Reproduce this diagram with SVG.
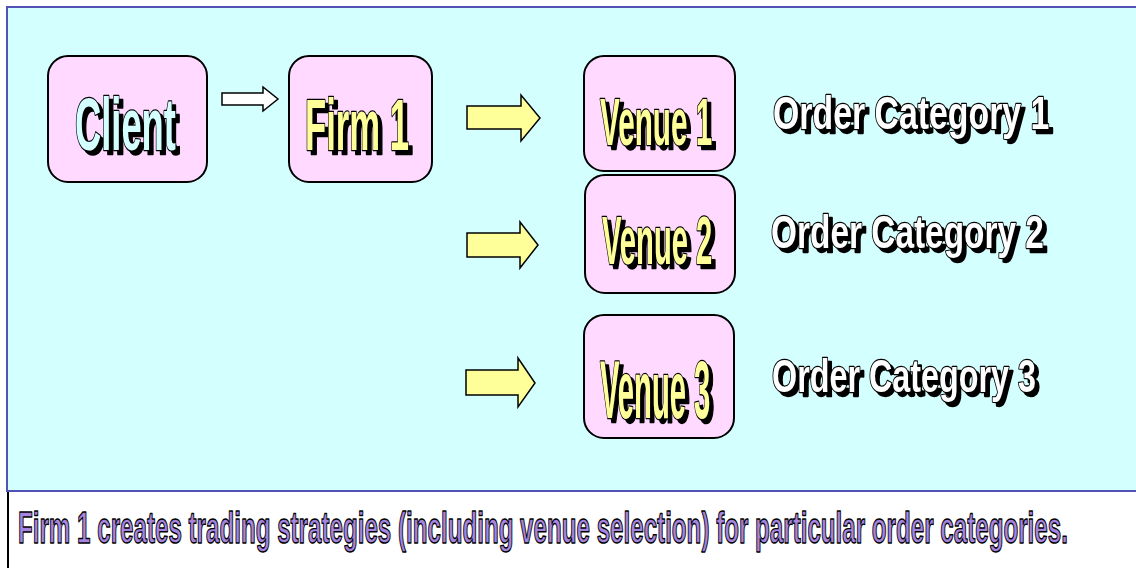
<svg xmlns="http://www.w3.org/2000/svg" width="1136" height="568" viewBox="0 0 1136 568">
<defs>
<filter id="shadow4" x="-10%" y="-20%" width="130%" height="150%">
<feFlood flood-color="#000" result="f"/>
<feComposite in="f" in2="SourceAlpha" operator="in" result="s"/>
<feOffset in="s" dx="4" dy="4" result="o"/>
<feMerge><feMergeNode in="o"/><feMergeNode in="SourceGraphic"/></feMerge>
</filter>
</defs>
<style>
.box{fill:#FFD9FF;stroke:#000;stroke-width:2}
.sh{filter:url(#shadow4)}
.t{font-family:"Liberation Sans",Arial,sans-serif;font-weight:bold;stroke:#000;stroke-width:2;stroke-linejoin:round;paint-order:stroke;vector-effect:non-scaling-stroke}
.cy{fill:#D4FFFF}
.ye{fill:#FFFF99}
.wh{fill:#FFFFFF}
.yarrow{fill:#FFFF99;stroke:#000;stroke-width:1.5;stroke-linejoin:miter}
.caption{font-family:"Liberation Sans",Arial,sans-serif;font-weight:bold;fill:#A585E0;stroke:#000;stroke-width:1.2;stroke-linejoin:round;vector-effect:non-scaling-stroke}
</style>
<rect x="0" y="0" width="1136" height="568" fill="#FFFFFF"/>
<rect x="7" y="7" width="1140" height="484" fill="#D4FFFF" stroke="#5353B5" stroke-width="2"/>
<line x1="8" y1="492" x2="8" y2="568" stroke="#000" stroke-width="2"/>

<g id="connectors">
<path d="M222,93 H263 V87 L278,99 L263,111 V105 H222 Z" fill="#FFFFFF" stroke="#000" stroke-width="1.5"/>
<path class="yarrow" d="M467,106 H521 V95 L540,118 L521,141 V129 H467 Z"/>
<path class="yarrow" d="M467,233 H520 V222 L538,245 L520,268 V257 H467 Z"/>
<path class="yarrow" d="M466,370 H518 V358 L535,383 L518,407 V395 H466 Z"/>
</g>

<g id="client">
<rect class="box" x="48" y="56" width="159" height="126" rx="20"/>
<g class="sh"><g transform="translate(75,150) scale(0.491,1)"><text class="t cy" x="0" y="0" font-size="74">Client</text></g></g>
</g>

<g id="firm1">
<rect class="box" x="289" y="56" width="143" height="126" rx="20"/>
<g class="sh"><g transform="translate(305,150) scale(0.481,1)"><text class="t ye" x="0" y="0" font-size="72">Firm 1</text></g></g>
</g>

<g id="venue1">
<rect class="box" x="584" y="56" width="151" height="115" rx="20"/>
<g class="sh"><g transform="translate(600,145) scale(0.45,1)"><text class="t ye" x="0" y="0" font-size="66">Venue 1</text></g></g>
</g>

<g id="venue2">
<rect class="box" x="585" y="175" width="150" height="118" rx="20"/>
<g class="sh"><g transform="translate(602,264) scale(0.429,1)"><text class="t ye" x="0" y="0" font-size="68">Venue 2</text></g></g>
</g>

<g id="venue3">
<rect class="box" x="584" y="315" width="150" height="123" rx="20"/>
<g class="sh"><g transform="translate(600,418) scale(0.356,1)"><text class="t ye" x="0" y="0" font-size="82">Venue 3</text></g></g>
</g>

<g id="cat1" class="sh">
<g transform="translate(773,129) scale(0.72,1)"><text class="t wh" x="0" y="0" font-size="47">Order Category 1</text></g>
</g>

<g id="cat2" class="sh">
<g transform="translate(771,248) scale(0.711,1)"><text class="t wh" x="0" y="0" font-size="47">Order Category 2</text></g>
</g>

<g id="cat3" class="sh">
<g transform="translate(772,392) scale(0.6875,1)"><text class="t wh" x="0" y="0" font-size="47">Order Category 3</text></g>
</g>

<g id="caption" transform="translate(18,543) scale(0.537,1)">
<text class="caption" x="0" y="0" font-size="45">Firm 1 creates trading strategies (including venue selection) for particular order categories.</text>
</g>
</svg>
